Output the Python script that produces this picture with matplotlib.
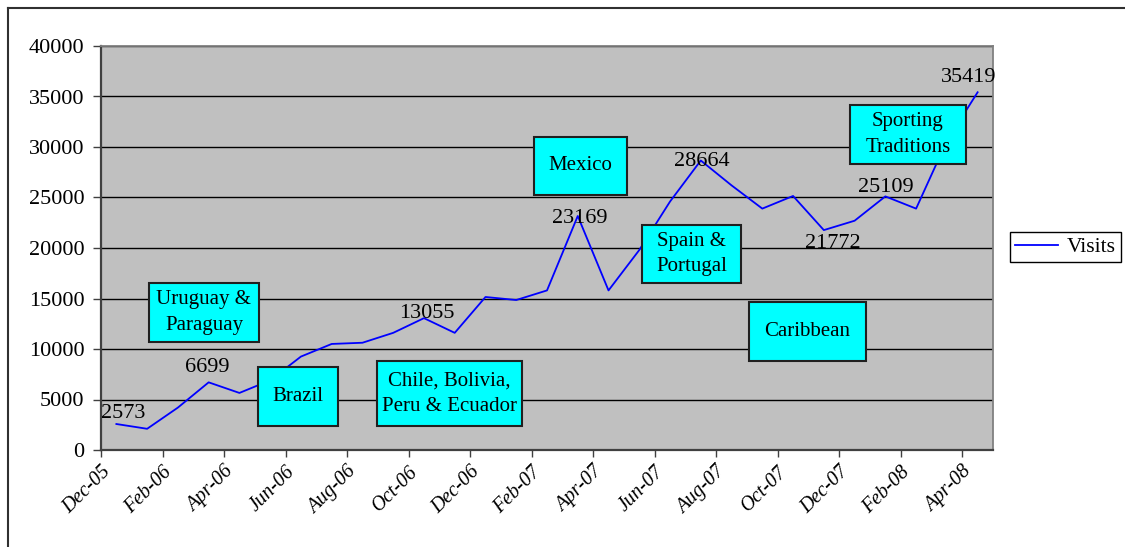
import numpy as np
import matplotlib
matplotlib.use("Agg")
import matplotlib.pyplot as plt
from matplotlib.patches import Rectangle
from matplotlib.lines import Line2D

plt.rcParams['font.family'] = ['Liberation Serif', 'DejaVu Serif']

# monthly visits, Dec-05 .. Apr-08
months = ['Dec-05', 'Jan-06', 'Feb-06', 'Mar-06', 'Apr-06', 'May-06', 'Jun-06',
          'Jul-06', 'Aug-06', 'Sep-06', 'Oct-06', 'Nov-06', 'Dec-06', 'Jan-07',
          'Feb-07', 'Mar-07', 'Apr-07', 'May-07', 'Jun-07', 'Jul-07', 'Aug-07',
          'Sep-07', 'Oct-07', 'Nov-07', 'Dec-07', 'Jan-08', 'Feb-08', 'Mar-08',
          'Apr-08']
visits = [2573, 2100, 4200, 6699, 5650, 6900, 9250, 10500, 10620, 11600, 13055,
          11600, 15150, 14850, 15800, 23169, 15800, 19800, 24600, 28664, 26200,
          23900, 25150, 21772, 22700, 25109, 23900, 30600, 35419]

# which points get a value label
labelled = ['Dec-05', 'Mar-06', 'Oct-06', 'Mar-07', 'Jul-07', 'Nov-07', 'Jan-08', 'Apr-08']

# region call-outs
regions = ['Uruguay &\nParaguay', 'Brazil', 'Chile, Bolivia,\nPeru & Ecuador', 'Mexico',
           'Spain &\nPortugal', 'Caribbean', 'Sporting\nTraditions']

W, H = 1125, 547
fig = plt.figure(figsize=(W / 100, H / 100), dpi=100)

# plot area in pixels
L, R, T, B = 101, 993, 46, 450
ax = fig.add_axes([L / W, 1 - B / H, (R - L) / W, (B - T) / H])
ax.set_facecolor('#c0c0c0')

x = np.arange(len(visits)) + 0.5
ax.plot(x, visits, color='#0000ff', lw=1.3, zorder=3, label='Visits')

ax.set_xlim(0, len(visits))
ax.set_ylim(0, 40000)
ax.set_yticks(np.arange(0, 40001, 5000))
ax.set_xticks(np.arange(0, len(visits), 2))
ax.set_xticklabels(months[::2], rotation=45, ha='right', rotation_mode='anchor',
                   fontstyle='italic', fontsize=14.5)
ax.tick_params(axis='y', labelsize=16, length=6, width=1, pad=6, color='#404040')
ax.tick_params(axis='x', length=5, width=1, pad=4, color='#404040')
ax.grid(axis='y', color='black', lw=1, zorder=1)
ax.set_axisbelow(True)

for side in ['left', 'bottom']:
    ax.spines[side].set_color('#404040')
    ax.spines[side].set_linewidth(1.6)
for side in ['top', 'right']:
    ax.spines[side].set_color('#808080')
    ax.spines[side].set_linewidth(1.3)

# value labels, offsets in pixels
offsets = {'Dec-05': (7, 6), 'Mar-06': (-1, 10), 'Oct-06': (3, 0), 'Mar-07': (2, -7),
           'Jul-07': (1, -6), 'Nov-07': (9, -18), 'Jan-08': (0, 4), 'Apr-08': (-9, 10)}
for m in labelled:
    i = months.index(m)
    ax.annotate(str(visits[i]), (x[i], visits[i]), xytext=offsets[m],
                textcoords='offset pixels', ha='center', va='baseline',
                fontsize=16, zorder=4)

# call-out boxes (axes fraction: x0, x1, y0, y1)
box_pos = [(0.0538, 0.1771, 0.2673, 0.4134), (0.176, 0.2657, 0.0594, 0.2054),
           (0.3094, 0.472, 0.0594, 0.2203), (0.4854, 0.5897, 0.6312, 0.7748),
           (0.6065, 0.7175, 0.4134, 0.5569), (0.7265, 0.8576, 0.2203, 0.3663),
           (0.8397, 0.9697, 0.7079, 0.854)]
for txt, (x0, x1, y0, y1) in zip(regions, box_pos):
    ax.add_patch(Rectangle((x0, y0), x1 - x0, y1 - y0, transform=ax.transAxes,
                           facecolor='#00ffff', edgecolor='#202020', lw=1.5, zorder=5))
    ax.text((x0 + x1) / 2, (y0 + y1) / 2, txt, transform=ax.transAxes, ha='center',
            va='center', fontsize=15, linespacing=1.45, zorder=6)

fig.legend(handles=[Line2D([], [], color='#0000ff', lw=1.3)], labels=['Visits'],
           loc='center left', bbox_to_anchor=(1010 / W, 1 - 247 / H), fontsize=15.5,
           frameon=True, fancybox=False, edgecolor='black', framealpha=1,
           handlelength=2.0, borderpad=0.25, handletextpad=0.4, borderaxespad=0)
fig.legends[0].get_frame().set_linewidth(1.0)

# outer chart frame (left and top edges visible)
fig.add_artist(Line2D([8 / W, 8 / W], [0, 1 - 8 / H], transform=fig.transFigure,
                      color='#303030', lw=1.5))
fig.add_artist(Line2D([8 / W, 1], [1 - 8 / H, 1 - 8 / H], transform=fig.transFigure,
                      color='#303030', lw=1.5))

fig.savefig('out.png', dpi=100)
